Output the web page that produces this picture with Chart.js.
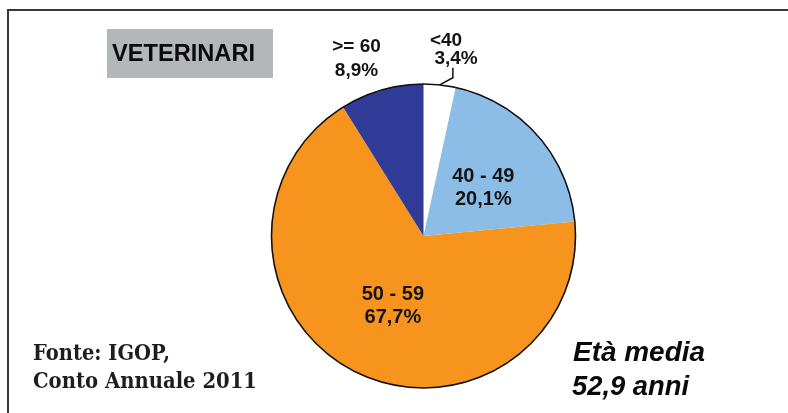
<!DOCTYPE html>
<html>
<head>
<meta charset="utf-8">
<script src="https://cdn.jsdelivr.net/npm/chart.js@4.4.0/dist/chart.umd.min.js"></script>
<style>
    html, body { margin: 0; padding: 0; background: #ffffff; }
    #wrap { position: relative; width: 788px; height: 413px; overflow: hidden; }
    #frame {
        position: absolute; left: 7px; top: 9px; right: -10px; bottom: -10px;
        border-top: 2px solid #3a3a3a; border-left: 2px solid #3a3a3a;
    }
    canvas { position: absolute; left: 0; top: 0; }
</style>
</head>
<body>
<div id="wrap">
    <div id="frame"></div>
    <canvas id="pieChart" width="788" height="413"></canvas>
</div>
<script>
// Age groups, clockwise from 12 o'clock
const ageGroups = ['<40', '40 - 49', '50 - 59', '>= 60'];
const shares = [3.4, 20.1, 67.7, 8.9];
const shareLabels = ['3,4%', '20,1%', '67,7%', '8,9%'];
const sliceColors = ['#ffffff', '#8cbde6', '#f7941e', '#2f3b96'];

const chartTitle = 'VETERINARI';
const sourceLines = ['Fonte: IGOP,', 'Conto Annuale 2011'];
const noteLines = ['Età media', '52,9 anni'];

const LABEL_FONT = 'bold 20px "Liberation Sans", Arial, sans-serif';

function polar(arc, angle, r) {
    return { x: arc.x + r * Math.cos(angle), y: arc.y + r * Math.sin(angle) };
}

const decorPlugin = {
    id: 'decor',
    afterDatasetsDraw(chart) {
        const ctx = chart.ctx;
        const arcs = chart.getDatasetMeta(0).data;
        const first = arcs[0];
        const R = first.outerRadius;

        // outer circle outline
        ctx.save();
        ctx.beginPath();
        ctx.arc(first.x, first.y, R, 0, Math.PI * 2);
        ctx.lineWidth = 1.6;
        ctx.strokeStyle = '#111111';
        ctx.stroke();

        ctx.fillStyle = '#141414';
        ctx.font = LABEL_FONT;
        ctx.textAlign = 'center';
        ctx.textBaseline = 'alphabetic';

        // labels inside the two big slices
        [1, 2].forEach(i => {
            const p = arcs[i].tooltipPosition();
            ctx.fillText(ageGroups[i], p.x + 3, p.y - 4);
            ctx.fillText(shareLabels[i], p.x + 3, p.y + 19);
        });

        // >= 60 outside
        const a3 = arcs[3];
        const mid3 = (a3.startAngle + a3.endAngle) / 2 - 4.5 * Math.PI / 180;
        const q3 = polar(a3, mid3, R * 1.258);
        ctx.font = 'bold 19px "Liberation Sans", Arial, sans-serif';
        ctx.fillText(ageGroups[3], q3.x, q3.y - 5);
        ctx.fillText(shareLabels[3], q3.x, q3.y + 19);

        // <40 outside with leader
        const a0 = arcs[0];
        const mid0 = (a0.startAngle + a0.endAngle) / 2;
        const q0 = polar(a0, mid0 + 2.2 * Math.PI / 180, R * 1.253);
        ctx.fillText(ageGroups[0], q0.x - 5, q0.y - 2);
        ctx.fillText(shareLabels[0], q0.x + 5, q0.y + 16);

        const p1 = polar(a0, mid0, R);
        const p2 = polar(a0, mid0 + 4.4 * Math.PI / 180, R + 9);
        ctx.beginPath();
        ctx.moveTo(p1.x, p1.y);
        ctx.lineTo(p2.x, p2.y);
        ctx.lineTo(p2.x, p2.y - 10);
        ctx.lineWidth = 1.5;
        ctx.stroke();

        // title box
        ctx.fillStyle = '#b4b7b8';
        ctx.fillRect(107, 29, 166, 49);
        ctx.fillStyle = '#0a0a0a';
        ctx.textAlign = 'left';
        ctx.font = 'bold 24px "Liberation Sans", Arial, sans-serif';
        ctx.fillText(chartTitle, 112, 61, 143);

        // source note
        ctx.fillStyle = '#1e1e1e';
        ctx.font = 'bold 22px "DejaVu Serif", serif';
        ctx.fillText(sourceLines[0], 33, 360, 137);
        ctx.fillText(sourceLines[1], 33, 388, 224);

        // average age
        ctx.fillStyle = '#0a0a0a';
        ctx.font = 'italic bold 28px "Liberation Sans", Arial, sans-serif';
        ctx.fillText(noteLines[0], 573, 361, 132);
        ctx.fillText(noteLines[1], 572, 395, 117);
        ctx.restore();
    }
};

new Chart(document.getElementById('pieChart').getContext('2d'), {
    type: 'pie',
    data: {
        labels: ageGroups,
        datasets: [{
            data: shares,
            backgroundColor: sliceColors,
            borderWidth: 0
        }]
    },
    options: {
        responsive: false,
        animation: false,
        layout: { padding: { left: 271.5, right: 212.5, top: 84, bottom: 25 } },
        plugins: {
            legend: { display: false },
            tooltip: { enabled: false }
        }
    },
    plugins: [decorPlugin]
});
</script>
</body>
</html>
